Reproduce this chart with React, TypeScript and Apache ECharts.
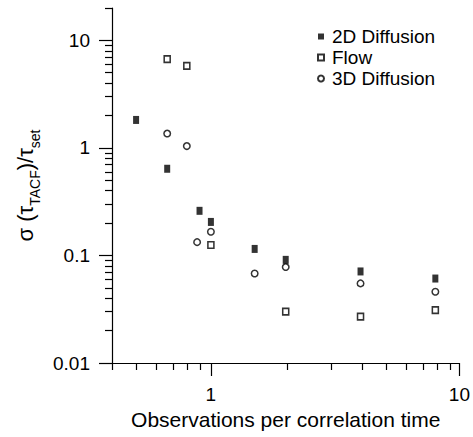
import React, { useEffect, useRef } from "react";
import * as echarts from "echarts";

const diff2dX = [0.5, 0.667, 0.9, 1, 1.5, 2, 4, 8];
const diff2dY = [1.82, 0.64, 0.26, 0.205, 0.115, 0.091, 0.071, 0.061];
const flowX = [0.667, 0.8, 1, 2, 4, 8];
const flowY = [6.7, 5.8, 0.125, 0.03, 0.027, 0.031];
const diff3dX = [0.667, 0.8, 0.88, 1, 1.5, 2, 4, 8];
const diff3dY = [1.36, 1.04, 0.133, 0.166, 0.068, 0.078, 0.055, 0.046];

const seriesNames = ["2D Diffusion", "Flow", "3D Diffusion"];

const xMajorTicks = [1, 10];
const xMinorTicks = [0.4, 0.5, 0.6, 0.7, 0.8, 0.9, 2, 3, 4, 5, 6, 7, 8, 9];
const yMajorTicks = [0.01, 0.1, 1, 10];
const yMinorTicks = [
  0.02, 0.03, 0.04, 0.05, 0.06, 0.07, 0.08, 0.09,
  0.2, 0.3, 0.4, 0.5, 0.6, 0.7, 0.8, 0.9,
  2, 3, 4, 5, 6, 7, 8, 9, 20,
];

const X_MIN = 0.4, X_MAX = 10, Y_MIN = 0.01, Y_MAX = 20;
const FONT = "Liberation Sans, Arial, sans-serif";

const zip = (xs: number[], ys: number[]) => xs.map((x, i) => [x, ys[i]]);
const fmt = (v: number) => `${+Number(v).toPrecision(3)}`;

export default function App() {
  const ref = useRef<HTMLDivElement>(null);
  useEffect(() => {
    const chart = echarts.init(ref.current!, null, { renderer: "svg" });
    const gridBox = { left: 112, right: 11, top: 8, bottom: 74 };
    const axisLine = { show: true, lineStyle: { color: "#000", width: 1.2 } };
    chart.setOption({
      animation: false,
      backgroundColor: "#fff",
      grid: [gridBox, gridBox],
      legend: {
        orient: "vertical",
        left: 312,
        top: 22,
        itemWidth: 6,
        itemHeight: 6,
        itemGap: 2,
        data: seriesNames,
        textStyle: { fontFamily: FONT, fontSize: 19, color: "#000", padding: [0, 0, 0, 3] },
      },
      xAxis: [
        {
          type: "log", gridIndex: 0, min: X_MIN, max: X_MAX,
          axisLine,
          splitLine: { show: false },
          axisTick: { show: true, customValues: xMajorTicks, length: 13, lineStyle: { color: "#000", width: 1.2 } },
          axisLabel: { customValues: xMajorTicks, formatter: fmt, fontFamily: FONT, fontSize: 19, color: "#000", margin: 22 },
          name: "Observations per correlation time",
          nameLocation: "middle",
          nameGap: 46,
          nameTextStyle: { fontFamily: FONT, fontSize: 21, color: "#000" },
        },
        {
          type: "log", gridIndex: 1, min: X_MIN, max: X_MAX,
          axisLine: { show: false },
          splitLine: { show: false },
          axisTick: { show: true, customValues: xMinorTicks, length: 7, lineStyle: { color: "#000", width: 1.2 } },
          axisLabel: { show: false },
        },
      ],
      yAxis: [
        {
          type: "log", gridIndex: 0, min: Y_MIN, max: Y_MAX,
          axisLine,
          splitLine: { show: false },
          axisTick: { show: true, customValues: yMajorTicks, length: 13, lineStyle: { color: "#000", width: 1.2 } },
          axisLabel: { customValues: yMajorTicks, formatter: fmt, fontFamily: FONT, fontSize: 19, color: "#000", margin: 22 },
          name: "{b|σ (τ}{s|TACF}{b|)/τ}{s|set}",
          nameLocation: "middle",
          nameRotate: 90,
          nameGap: 68,
          nameTextStyle: {
            fontFamily: FONT,
            color: "#000",
            rich: {
              b: { fontFamily: FONT, fontSize: 22, lineHeight: 24, verticalAlign: "top", color: "#000" },
              s: { fontFamily: FONT, fontSize: 14, lineHeight: 28, verticalAlign: "bottom", color: "#000" },
            },
          },
        },
        {
          type: "log", gridIndex: 1, min: Y_MIN, max: Y_MAX,
          axisLine: { show: false },
          splitLine: { show: false },
          axisTick: { show: true, customValues: yMinorTicks, length: 7, lineStyle: { color: "#000", width: 1.2 } },
          axisLabel: { show: false },
        },
      ],
      series: [
        {
          name: seriesNames[0], type: "scatter", xAxisIndex: 0, yAxisIndex: 0,
          symbol: "rect", symbolSize: [6, 8],
          itemStyle: { color: "#000" },
          data: zip(diff2dX, diff2dY),
        },
        {
          name: seriesNames[1], type: "scatter", xAxisIndex: 0, yAxisIndex: 0,
          symbol: "rect", symbolSize: [6, 6.5],
          itemStyle: { color: "#fff", borderColor: "#000", borderWidth: 1.6 },
          data: zip(flowX, flowY),
        },
        {
          name: seriesNames[2], type: "scatter", xAxisIndex: 0, yAxisIndex: 0,
          symbol: "circle", symbolSize: 6.5,
          itemStyle: { color: "#fff", borderColor: "#000", borderWidth: 1.5 },
          data: zip(diff3dX, diff3dY),
        },
      ],
    });
    return () => chart.dispose();
  }, []);
  return <div ref={ref} style={{ width: 473, height: 437, position: "absolute", left: 0, top: 0 }} />;
}
